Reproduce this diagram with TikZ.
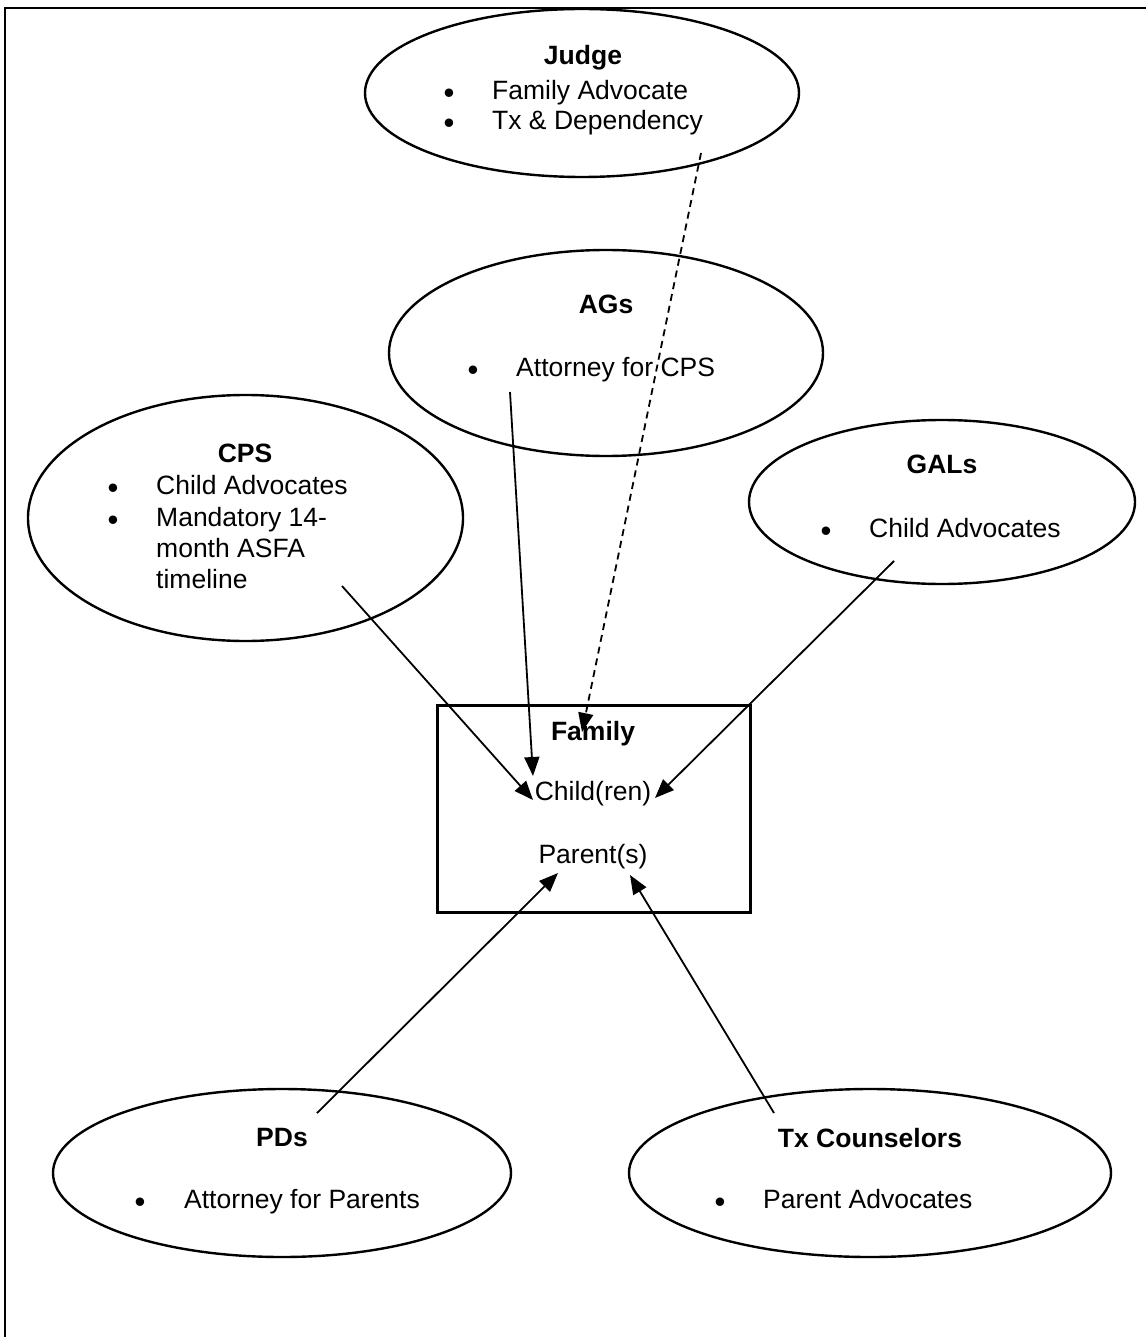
\documentclass[tikz,border=0pt]{standalone}
\usepackage{fontspec}
\setmainfont{Liberation Sans}
\usetikzlibrary{shapes.geometric,arrows.meta}
\begin{document}
\begin{tikzpicture}[x=1pt,y=-1pt,
  bubble/.style={ellipse,draw,line width=2.4pt,inner sep=0pt},
  ttl/.style={anchor=base,font=\fontsize{26.5}{31}\selectfont\bfseries,inner sep=0pt},
  itm/.style={anchor=base west,font=\fontsize{26.5}{31}\selectfont,inner sep=0pt},
  bul/.style={anchor=base,font=\fontsize{31}{31}\selectfont,inner sep=0pt},
  lbl/.style={anchor=base,font=\fontsize{26.5}{31}\selectfont,inner sep=0pt},
  link/.style={line width=1.8pt,-{Triangle[length=19pt,width=15pt]}},
  dlink/.style={link,dash pattern=on 7pt off 5pt},
]
\useasboundingbox (0,0) rectangle (1146,1337);
% outer frame (cropped at right and bottom)
\draw[line width=2.6pt] (5,1337) -- (5,8) -- (1146,8);

% Judge
\node[bubble,minimum width=434pt,minimum height=168pt] (judge) at (582,93) {};
\node[ttl] (judget) at (583,65) {Judge};
\node[bul] (judgeb1) at (449,104) {\textbullet};
\node[itm] (judgei1) at (492,100) {Family Advocate};
\node[bul] (judgeb2) at (449,134) {\textbullet};
\node[itm] (judgei2) at (492,130) {Tx \& Dependency};

% AGs
\node[bubble,minimum width=434pt,minimum height=206pt] (ags) at (606,353) {};
\node[ttl] (agst) at (606,313) {AGs};
\node[bul] (agsb1) at (473,380) {\textbullet};
\node[itm] (agsi1) at (516,376) {Attorney for CPS};

% CPS
\node[bubble,minimum width=435pt,minimum height=246pt] (cps) at (245.5,518) {};
\node[ttl] (cpst) at (245,462) {CPS};
\node[bul] (cpsb1) at (113,498) {\textbullet};
\node[itm] (cpsi1) at (156,494) {Child Advocates};
\node[bul] (cpsb2) at (113,530) {\textbullet};
\node[itm] (cpsi2) at (156,526) {Mandatory 14-};
\node[itm] (cpsi3) at (156,557) {month ASFA};
\node[itm] (cpsi4) at (156,588) {timeline};

% GALs
\node[bubble,minimum width=386pt,minimum height=164pt] (gals) at (942,502) {};
\node[ttl] (galst) at (942,473) {GALs};
\node[bul] (galsb1) at (826,541) {\textbullet};
\node[itm] (galsi1) at (869,537) {Child Advocates};

% Family
\node[draw,line width=3pt,minimum width=313pt,minimum height=207pt,inner sep=0pt] (family) at (593.5,808.5) {};
\node[ttl] (familyt) at (593,740) {Family};
\node[lbl] (child) at (593,800) {Child(ren)};
\node[lbl] (parent) at (593,863) {Parent(s)};

% PDs
\node[bubble,minimum width=458pt,minimum height=168pt] (pds) at (282,1173) {};
\node[ttl] (pdst) at (282,1146) {PDs};
\node[bul] (pdsb1) at (140,1212) {\textbullet};
\node[itm] (pdsi1) at (184,1208) {Attorney for Parents};

% Tx Counselors
\node[bubble,minimum width=482pt,minimum height=168pt] (tx) at (870,1173) {};
\node[ttl] (txt) at (870,1147) {Tx Counselors};
\node[bul] (txb1) at (720,1212) {\textbullet};
\node[itm] (txi1) at (763,1208) {Parent Advocates};

% connector ends
\coordinate (cpsS) at (342,586);
\coordinate (cpsE) at (533,800);
\coordinate (agsS) at (510,392);
\coordinate (agsE) at (533,776);
\coordinate (judgeS) at (701,153);
\coordinate (judgeE) at (582,732);
\coordinate (galsS) at (894,561);
\coordinate (galsE) at (655,798);
\coordinate (pdsS) at (317,1113);
\coordinate (pdsE) at (558,873);
\coordinate (txS) at (774,1113);
\coordinate (txE) at (630,875);

\draw[link] (cpsS) -- (cpsE);
\draw[link] (agsS) -- (agsE);
\draw[dlink] (judgeS) -- (judgeE);
\draw[link] (galsS) -- (galsE);
\draw[link] (pdsS) -- (pdsE);
\draw[link] (txS) -- (txE);
\end{tikzpicture}
\end{document}
